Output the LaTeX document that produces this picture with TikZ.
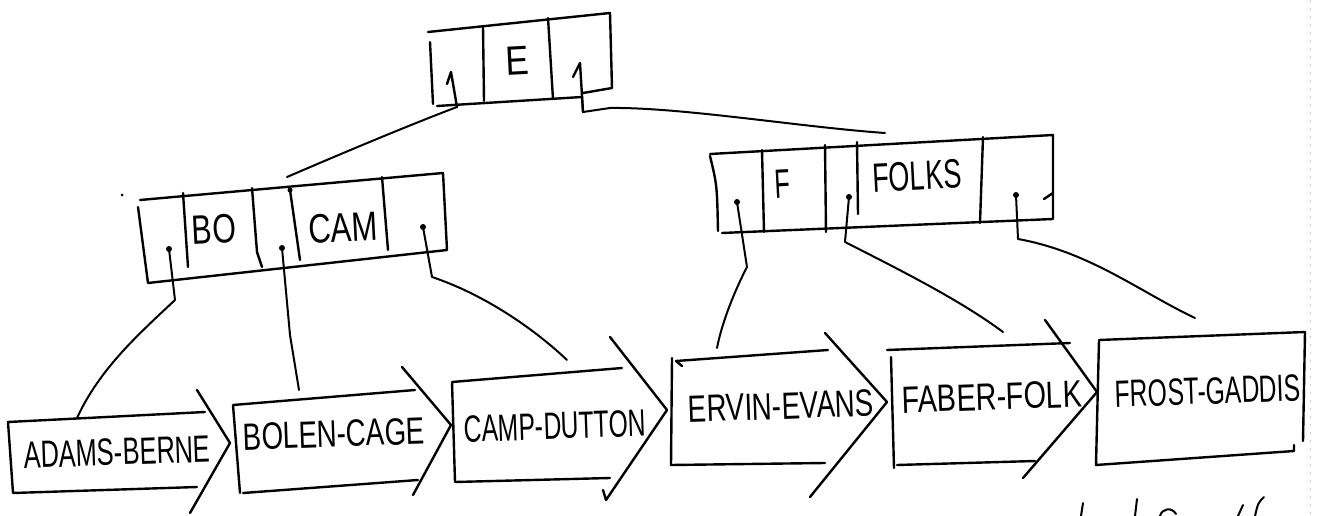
\documentclass[tikz,border=0pt]{standalone}
\usepackage{fontspec}
\usepackage{graphicx}
\setmainfont{Liberation Sans}
\newcommand{\hwx}[2]{\scalebox{#1}[1]{#2}}
\tikzset{
  ink/.style={line width=2.4pt, line cap=round, line join=round, black},
  wire/.style={line width=2pt, line cap=round, line join=round, black},
  lbl/.style={inner sep=0pt, font=\fontsize{38}{38}\selectfont, rotate=2},
  keytxt/.style={inner sep=0pt, font=\fontsize{41}{41}\selectfont, rotate=3},
  ptrdot/.style={circle, fill=black, inner sep=0pt, minimum size=6pt},
}
\begin{document}
\begin{tikzpicture}[x=1pt,y=-1pt]
\useasboundingbox (0,0) rectangle (1318,516);
% scanner edge
\draw[gray!40, line width=1pt, dash pattern=on 2pt off 6pt] (1310,0) -- (1310,516);

% ---------- root node ----------
\draw[ink] (428,32) -- (610,13) -- (612,88) -- (583,93);
\draw[ink] (430,42) -- (433,104);
\draw[ink] (437,106) -- (582,97);
\draw[ink] (483,27) -- (484,101);
\draw[ink] (548,18) -- (553,99);
\node[keytxt] (E) at (517,61) {\hwx{0.85}{E}};
\coordinate (rootL) at (457,107);
\coordinate (rootR) at (582,97);
\draw[ink] (rootL) -- (451,72) -- (447,84);
\draw[ink] (583,112) -- (580,63) -- (573,77);

% ---------- left internal node ----------
\draw[ink] (140,200) -- (443,173) -- (447,250) -- (148,283) -- (138,207);
\draw[ink] (183,193) -- (188,267);
\draw[ink] (252,188) -- (257,252) -- (262,267);
\draw[ink] (290,190) -- (300,260);
\draw[ink] (382,177) -- (388,250);
\node[ptrdot, minimum size=5pt] (ldot) at (290,190) {};
\node[keytxt] (BO) at (214,229) {\hwx{0.74}{BO}};
\node[keytxt] (CAM) at (343,228) {\hwx{0.76}{CAM}};
\node[circle, fill=black, inner sep=0pt, minimum size=3pt] (stray) at (122,195) {};

% ---------- right internal node ----------
\draw[ink] (710,154) -- (1053,135) -- (1053,219) -- (722,233);
\draw[ink] (710,156) .. controls (717,185) .. (718,231);
\draw[ink] (762,150) -- (764,232);
\draw[ink] (825,145) -- (826,232);
\draw[ink] (857,142) -- (858,214);
\draw[ink] (983,137) -- (980,223);
\draw[ink] (1053,193) -- (1044,199);
\node[keytxt] (F) at (783,184) {\hwx{0.62}{F}};
\node[keytxt] (FOLKS) at (917,176) {\hwx{0.66}{FOLKS}};

% ---------- root connectors ----------
\coordinate (lnTop) at (287,177);
\coordinate (rnTop) at (885,133);
\draw[wire] (rootL) .. controls (412,124) and (345,152) .. (lnTop);
\draw[wire] (rootR) -- (583,112) -- (610,108) .. controls (680,107) and (800,127) .. (rnTop);

% ---------- leaves ----------
% ADAMS-BERNE
\draw[ink] (205,412) -- (8,422) -- (13,493) -- (197,487);
\draw[ink] (197,390) -- (230,443) -- (190,513);
\node[lbl] (adams) at (117,452) {\hwx{0.67}{ADAMS-BERNE}};
% BOLEN-CAGE
\draw[ink] (415,390) -- (233,405) -- (240,493);
\draw[ink] (243,493) -- (418,480);
\draw[ink] (402,367) -- (451,425) -- (413,495);
\node[lbl] (bolen) at (334,434) {\hwx{0.73}{BOLEN-CAGE}};
% CAMP-DUTTON
\draw[ink] (622,368) -- (452,382) -- (455,482) -- (610,478);
\draw[ink] (610,337) -- (667,410) -- (606,500) -- (603,490);
\node[lbl] (camp) at (555,426) {\hwx{0.65}{CAMP-DUTTON}};
% ERVIN-EVANS
\draw[ink] (828,350) -- (676,361) -- (682,366);
\draw[ink] (672,358) -- (671,465) -- (825,463);
\draw[ink] (825,333) -- (887,402) -- (810,497);
\node[lbl] (ervin) at (781,406) {\hwx{0.73}{ERVIN-EVANS}};
% FABER-FOLK
\draw[ink] (1070,343) -- (887,350);
\draw[ink] (891,357) -- (894,468);
\draw[ink] (897,465) -- (1035,461);
\draw[ink] (1045,320) -- (1097,392) -- (1023,478);
\node[lbl] (faber) at (992,397) {\hwx{0.76}{FABER-FOLK}};
% FROST-GADDIS
\draw[ink] (1305,332) -- (1099,340) -- (1096,465) -- (1294,451) -- (1294,445);
\draw[ink] (1305,332) -- (1303,441);
\node[lbl] (frost) at (1208,391) {\hwx{0.65}{FROST-GADDIS}};

% ---------- leaf pointers ----------
\coordinate (adamsTop) at (77,418);
\coordinate (bolenTop) at (299,390);
\coordinate (campTop) at (567,360);
\coordinate (ervinTop) at (717,348);
\coordinate (faberTop) at (1003,332);
\coordinate (frostTop) at (1195,318);
\node[ptrdot] (lp1) at (169,249) {};
\node[ptrdot] (lp2) at (282,248) {};
\node[ptrdot] (lp3) at (423,227) {};
\node[ptrdot] (rp1) at (737,202) {};
\node[ptrdot] (rp2) at (849,197) {};
\node[ptrdot] (rp3) at (1016,195) {};
\draw[wire] (lp1.center) -- (175,300) .. controls (140,333) and (100,368) .. (adamsTop);
\draw[wire] (lp2.center) -- (290,335) -- (bolenTop);
\draw[wire] (lp3.center) -- (432,277) .. controls (480,293) and (530,325) .. (campTop);
\draw[wire] (rp1.center) -- (747,267) .. controls (735,290) and (722,322) .. (ervinTop);
\draw[wire] (rp2.center) -- (845,242) .. controls (900,270) and (960,300) .. (faberTop);
\draw[wire] (rp3.center) -- (1018,239) .. controls (1090,252) and (1140,292) .. (frostTop);

% ---------- truncated handwriting at the bottom ----------
\draw[wire] (1083,503) -- (1081,516);
\draw[wire] (1137,499) -- (1135,516);
\draw[wire] (1160,516) .. controls (1162,508) and (1172,507) .. (1176,514);
\draw[wire] (1243,505) -- (1238,516);
\draw[wire] (1264,497) .. controls (1258,503) .. (1255,516);
\end{tikzpicture}
\end{document}
